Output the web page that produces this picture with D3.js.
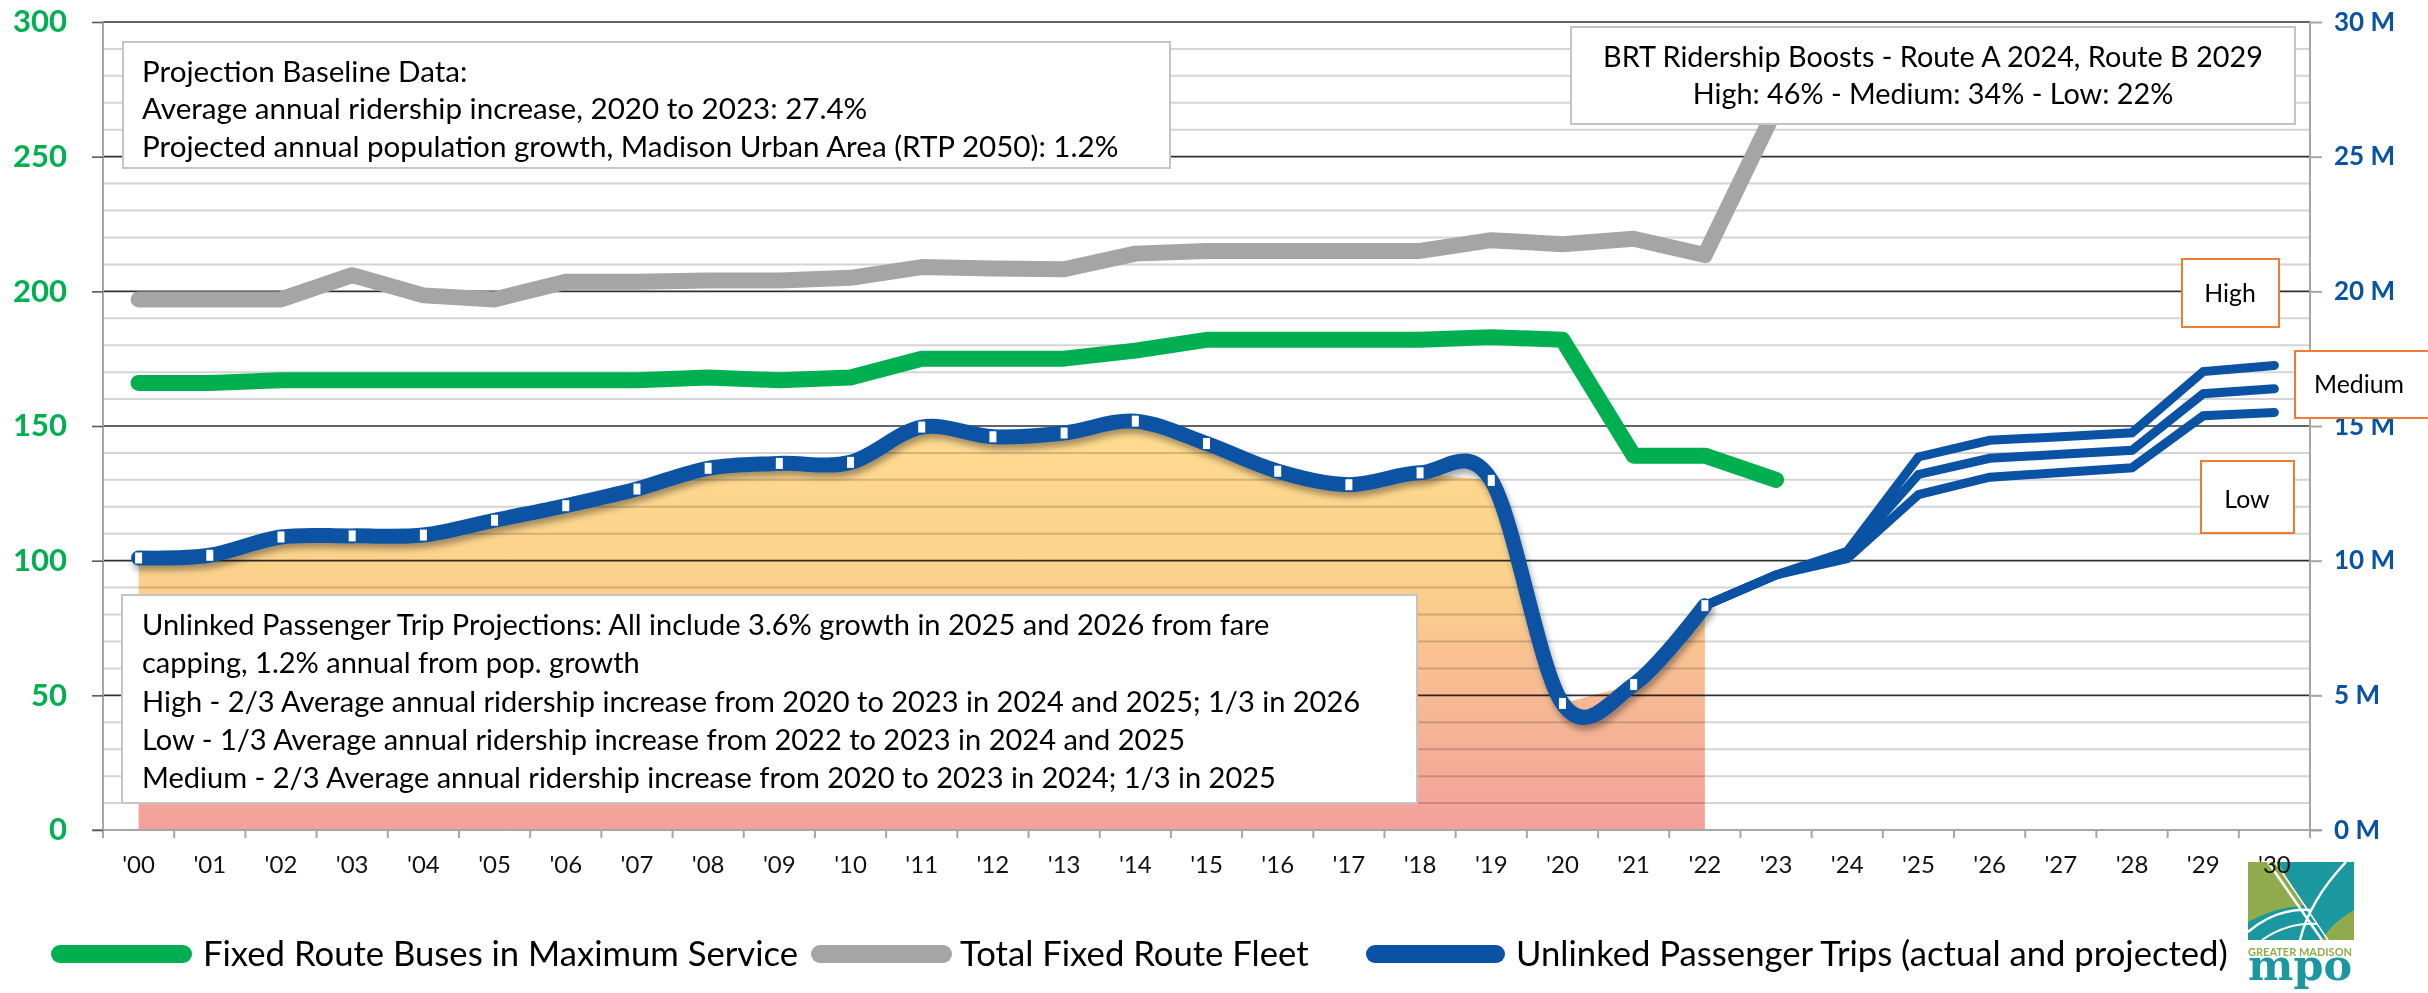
<!DOCTYPE html>
<html>
<head>
<meta charset="utf-8">
<script src="https://cdn.jsdelivr.net/npm/d3@7"></script>
<style>
  html, body { margin: 0; padding: 0; background: #fff; }
  svg { display: block; font-family: Lato, "Open Sans", sans-serif; }
</style>
</head>
<body>
<svg id="chart" width="2428" height="993"></svg>
<script>
// ---------------- data ----------------
const years = d3.range(0, 31).map(d => "'" + String(d).padStart(2, "0"));

// Fleet ('00 - '23)
const fleetYears = years.slice(0, 24);
const fleetTotal = [197, 197, 197, 206, 198.5, 197, 203.6, 203.6, 204, 204, 205, 209, 208.5, 208.2,
                    214, 215, 215, 215, 215, 219, 217.5, 219.5, 213.5, 268];
const maxService = [166, 166, 167, 167, 167, 167, 167, 167, 168, 167, 168, 175, 175, 175,
                    178, 182, 182, 182, 182, 183, 182, 139, 139, 130];

// Unlinked passenger trips, millions ('00 - '22 actual)
const tripYears = years.slice(0, 23);
const tripsActual = [10.1, 10.2, 10.88, 10.92, 10.95, 11.5, 12.04, 12.66, 13.43, 13.61, 13.65,
                     14.96, 14.6, 14.74, 15.18, 14.35, 13.32, 12.82, 13.26, 12.98, 4.7, 5.4, 8.33];

// Projections ('22 - '30)
const projYears = years.slice(22);
const tripsLow    = [8.33, 9.47, 10.08, 12.45, 13.1, 13.27, 13.45, 15.38, 15.5];
const tripsMedium = [8.33, 9.47, 10.2, 13.2, 13.8, 13.95, 14.1, 16.2, 16.38];
const tripsHigh   = [8.33, 9.47, 10.35, 13.85, 14.47, 14.6, 14.75, 17.02, 17.25];

const leftTicks = [0, 50, 100, 150, 200, 250, 300];
const rightTicks = [0, 5, 10, 15, 20, 25, 30];

const baselineNotes = [
  "Projection Baseline Data:",
  "Average annual ridership increase, 2020 to 2023: 27.4%",
  "Projected annual population growth, Madison Urban Area (RTP 2050): 1.2%"
];
const projectionNotes = [
  "Unlinked Passenger Trip Projections: All include 3.6% growth in 2025 and 2026 from fare",
  "capping, 1.2% annual from pop. growth",
  "High - 2/3 Average annual ridership increase from 2020 to 2023 in 2024 and 2025; 1/3 in 2026",
  "Low - 1/3 Average annual ridership increase from 2022 to 2023 in 2024 and 2025",
  "Medium - 2/3 Average annual ridership increase from 2020 to 2023 in 2024; 1/3 in 2025"
];
const brtNotes = [
  "BRT Ridership Boosts - Route A 2024, Route B 2029",
  "High: 46% - Medium: 34% - Low: 22%"
];
const scenarioLabels = ["High", "Medium", "Low"];
const legendLabels = [
  "Fixed Route Buses in Maximum Service",
  "Total Fixed Route Fleet",
  "Unlinked Passenger Trips (actual and projected)"
];

// ---------------- setup ----------------
const GREEN = "#00b050", GREY = "#a5a5a5", BLUE = "#0a52a3", ORANGE = "#ed7d31";
const plot = { left: 103, right: 2310, top: 22, bottom: 830 };

const svg = d3.select("#chart");
const defs = svg.append("defs");

const x = d3.scaleBand().domain(years).range([plot.left, plot.right]);
const cx = d => x(d) + x.bandwidth() / 2;
const yL = d3.scaleLinear().domain([0, 300]).range([plot.bottom, plot.top]);
const yR = d3.scaleLinear().domain([0, 30]).range([plot.bottom, plot.top]);

const grad = defs.append("linearGradient")
    .attr("id", "areaFill")
    .attr("gradientUnits", "userSpaceOnUse")
    .attr("x1", 0).attr("x2", 0)
    .attr("y1", yR(15)).attr("y2", yR(0));
grad.append("stop").attr("offset", 0).attr("stop-color", "#ffdb8f");
grad.append("stop").attr("offset", 0.4).attr("stop-color", "#fcd08c");
grad.append("stop").attr("offset", 0.72).attr("stop-color", "#f6b595");
grad.append("stop").attr("offset", 1).attr("stop-color", "#f4a09b");

const shadow = defs.append("filter").attr("id", "shadow")
    .attr("x", "-5%").attr("y", "-10%").attr("width", "110%").attr("height", "130%");
shadow.append("feDropShadow")
    .attr("dx", 2).attr("dy", 5).attr("stdDeviation", 3)
    .attr("flood-color", "#000").attr("flood-opacity", 0.35);

// ---------------- area ----------------
svg.append("path")
    .datum(tripsActual)
    .attr("fill", "url(#areaFill)")
    .attr("d", d3.area()
        .x((d, i) => cx(tripYears[i]))
        .y0(yR(0))
        .y1(d => yR(d)));

// ---------------- grid ----------------
const grid = svg.append("g").style("mix-blend-mode", "multiply");
grid.selectAll("line")
    .data(d3.range(10, 301, 10))
    .join("line")
    .attr("x1", plot.left).attr("x2", plot.right)
    .attr("y1", d => yL(d)).attr("y2", d => yL(d))
    .attr("stroke", d => d % 50 === 0 ? "#303030" : "#d4d4d4")
    .attr("stroke-width", d => d % 50 === 0 ? 1.6 : 2);

// ---------------- fleet lines ----------------
const fleetLine = d3.line().x((d, i) => cx(fleetYears[i])).y(d => yL(d));

svg.append("path")
    .datum(fleetTotal)
    .attr("fill", "none")
    .attr("stroke", GREY)
    .attr("stroke-width", 16)
    .attr("stroke-linejoin", "round")
    .attr("stroke-linecap", "round")
    .attr("d", fleetLine);

svg.append("path")
    .datum(maxService)
    .attr("fill", "none")
    .attr("stroke", GREEN)
    .attr("stroke-width", 16)
    .attr("stroke-linejoin", "round")
    .attr("stroke-linecap", "round")
    .attr("d", fleetLine);

// ---------------- trips ----------------
const projLine = d3.line().x((d, i) => cx(projYears[i])).y(d => yR(d));
[tripsLow, tripsMedium, tripsHigh].forEach(series => {
    svg.append("path")
        .datum(series)
        .attr("fill", "none")
        .attr("stroke", BLUE)
        .attr("stroke-width", 9)
        .attr("stroke-linejoin", "miter")
        .attr("stroke-linecap", "round")
        .attr("d", projLine);
});

svg.append("path")
    .datum(tripsActual)
    .attr("fill", "none")
    .attr("stroke", BLUE)
    .attr("stroke-width", 15)
    .attr("stroke-linecap", "round")
    .attr("filter", "url(#shadow)")
    .attr("d", d3.line()
        .curve(d3.curveCardinal.tension(0))
        .x((d, i) => cx(tripYears[i]))
        .y(d => yR(d)));

svg.append("g")
    .selectAll("rect")
    .data(tripsActual)
    .join("rect")
    .attr("x", (d, i) => cx(tripYears[i]) - 3.5)
    .attr("y", d => yR(d) - 5.5)
    .attr("width", 7)
    .attr("height", 11)
    .attr("fill", "#fff");

// ---------------- axes ----------------
const axisColor = "#a6a6a6";
svg.append("line")
    .attr("x1", plot.left).attr("x2", plot.left)
    .attr("y1", plot.top).attr("y2", plot.bottom + 8)
    .attr("stroke", axisColor).attr("stroke-width", 2);
svg.append("line")
    .attr("x1", plot.right).attr("x2", plot.right)
    .attr("y1", plot.top).attr("y2", plot.bottom + 8)
    .attr("stroke", axisColor).attr("stroke-width", 2);
svg.append("line")
    .attr("x1", plot.left - 11).attr("x2", plot.right + 12)
    .attr("y1", plot.bottom).attr("y2", plot.bottom)
    .attr("stroke", axisColor).attr("stroke-width", 2);

// category boundary ticks
svg.append("g")
    .selectAll("line")
    .data(years.slice(1))
    .join("line")
    .attr("x1", d => x(d)).attr("x2", d => x(d))
    .attr("y1", plot.bottom).attr("y2", plot.bottom + 8)
    .attr("stroke", axisColor).attr("stroke-width", 2);

// logo (drawn before labels so '30 sits on top)
const logo = svg.append("g").attr("transform", "translate(2248,862)");
defs.append("clipPath").attr("id", "logoClip")
    .append("rect").attr("width", 106).attr("height", 78);
const mark = logo.append("g").attr("clip-path", "url(#logoClip)");
mark.append("rect").attr("width", 106).attr("height", 78).attr("fill", "#1b97a0");
mark.append("path").attr("d", "M0,0 H30 L56,44 Q30,44 0,60 Z").attr("fill", "#8fab4b");
mark.append("path").attr("d", "M106,48 Q84,60 74,78 H106 Z").attr("fill", "#8fab4b");
mark.append("path").attr("d", "M20,0 L74,78").attr("stroke", "#fff").attr("stroke-width", 2.5).attr("fill", "none");
mark.append("path").attr("d", "M27,0 L80,78").attr("stroke", "#fff").attr("stroke-width", 1.5).attr("fill", "none");
mark.append("path").attr("d", "M98,0 Q62,38 52,78").attr("stroke", "#fff").attr("stroke-width", 2.5).attr("fill", "none");
mark.append("path").attr("d", "M0,70 Q28,46 62,48").attr("stroke", "#fff").attr("stroke-width", 2.5).attr("fill", "none");
mark.append("path").attr("d", "M14,78 Q40,60 70,62").attr("stroke", "#fff").attr("stroke-width", 2).attr("fill", "none");
logo.append("text")
    .attr("x", 0).attr("y", 94)
    .attr("font-size", 11.5).attr("font-weight", 700)
    .attr("fill", "#8fab4b")
    .attr("textLength", 104).attr("lengthAdjust", "spacingAndGlyphs")
    .text("GREATER MADISON");
logo.append("text")
    .attr("x", 0).attr("y", 118)
    .attr("font-family", "'DejaVu Serif', serif")
    .attr("font-size", 42).attr("font-weight", 700)
    .attr("fill", "#1b97a0")
    .attr("textLength", 104).attr("lengthAdjust", "spacingAndGlyphs")
    .text("mpo");

// left axis labels
const leftAxis = svg.append("g")
    .attr("transform", `translate(${plot.left},0)`)
    .call(d3.axisLeft(yL).tickValues(leftTicks).tickSize(11).tickPadding(25));
leftAxis.select(".domain").remove();
leftAxis.selectAll(".tick line").attr("stroke", "#595959").attr("stroke-width", 1.6);
leftAxis.selectAll(".tick text")
    .attr("fill", GREEN)
    .style("font", "700 31px Lato, sans-serif");

// right axis labels
const rightAxis = svg.append("g")
    .attr("transform", `translate(${plot.right},0)`)
    .call(d3.axisRight(yR).tickValues(rightTicks).tickSize(12).tickPadding(12).tickFormat(d => d + " M"));
rightAxis.select(".domain").remove();
rightAxis.selectAll(".tick line").attr("stroke", axisColor).attr("stroke-width", 2);
rightAxis.selectAll(".tick text")
    .attr("fill", BLUE)
    .style("font", "700 26px Lato, sans-serif");

// bottom labels
const bottomAxis = svg.append("g")
    .attr("transform", `translate(0,${plot.bottom})`)
    .call(d3.axisBottom(x).tickSize(0).tickPadding(26));
bottomAxis.select(".domain").remove();
bottomAxis.selectAll(".tick text")
    .attr("fill", "#111")
    .style("font", "400 24px Lato, sans-serif");

// ---------------- note boxes ----------------
function fitText(sel, targetWidth) {
    sel.attr("font-size", 30);
    const maxW = d3.max(sel.nodes(), n => n.getComputedTextLength());
    const size = 30 * targetWidth / maxW;
    sel.attr("font-size", size);
    return size;
}

function noteBox(lines, box, textX, baselines, fitWidth, anchor, stroke) {
    const g = svg.append("g");
    g.append("rect")
        .attr("x", box[0]).attr("y", box[1])
        .attr("width", box[2]).attr("height", box[3])
        .attr("fill", "#fff")
        .attr("stroke", stroke)
        .attr("stroke-width", 2);
    const t = g.selectAll("text")
        .data(lines)
        .join("text")
        .attr("x", textX)
        .attr("y", (d, i) => baselines[i])
        .attr("text-anchor", anchor)
        .attr("fill", "#000")
        .text(d => d);
    fitText(t, fitWidth);
    return t;
}

noteBox(baselineNotes, [123, 42, 1047, 126], 142, [82, 119, 157], 977, "start", "#c4c4c4");
noteBox(projectionNotes, [122, 595, 1295, 208], 142, [635, 673, 712, 750, 788], 1219, "start", "#c4c4c4");
noteBox(brtNotes, [1571, 27, 724, 97], 1933, [67, 104], 660, "middle", "#c4c4c4");

// scenario boxes
const scenBoxes = [
    { box: [2182, 259, 97, 68], tx: 2230, ty: 302, anchor: "middle" },
    { box: [2295, 351, 150, 67], tx: 2314, ty: 393, anchor: "start" },
    { box: [2201, 461, 93, 72], tx: 2247, ty: 508, anchor: "middle" }
];
const scenTexts = [];
scenarioLabels.forEach((label, i) => {
    const s = scenBoxes[i];
    const g = svg.append("g");
    g.append("rect")
        .attr("x", s.box[0]).attr("y", s.box[1])
        .attr("width", s.box[2]).attr("height", s.box[3])
        .attr("fill", "#fff").attr("stroke", ORANGE).attr("stroke-width", 2);
    scenTexts.push(g.append("text")
        .attr("x", s.tx).attr("y", s.ty)
        .attr("text-anchor", s.anchor)
        .attr("fill", "#000")
        .text(label).node());
});
const medSize = fitText(d3.select(scenTexts[1]), 90);
d3.selectAll(scenTexts).attr("font-size", medSize);

// ---------------- legend ----------------
const legendColors = [GREEN, GREY, BLUE];
const legendSwatch = [[51, 192], [811, 952], [1366, 1505]];
const legendTextX = [203, 960, 1516];
const legendY = 954;
const legend = svg.append("g");
legend.selectAll("line")
    .data(legendLabels)
    .join("line")
    .attr("x1", (d, i) => legendSwatch[i][0] + 9)
    .attr("x2", (d, i) => legendSwatch[i][1] - 9)
    .attr("y1", legendY).attr("y2", legendY)
    .attr("stroke", (d, i) => legendColors[i])
    .attr("stroke-width", 18)
    .attr("stroke-linecap", "round");
const legendTexts = legend.selectAll("text")
    .data(legendLabels)
    .join("text")
    .attr("x", (d, i) => legendTextX[i])
    .attr("y", legendY + 12)
    .attr("fill", "#000")
    .text(d => d);
const legSize = fitText(d3.select(legendTexts.nodes()[2]), 712);
legendTexts.attr("font-size", legSize);
</script>
</body>
</html>
